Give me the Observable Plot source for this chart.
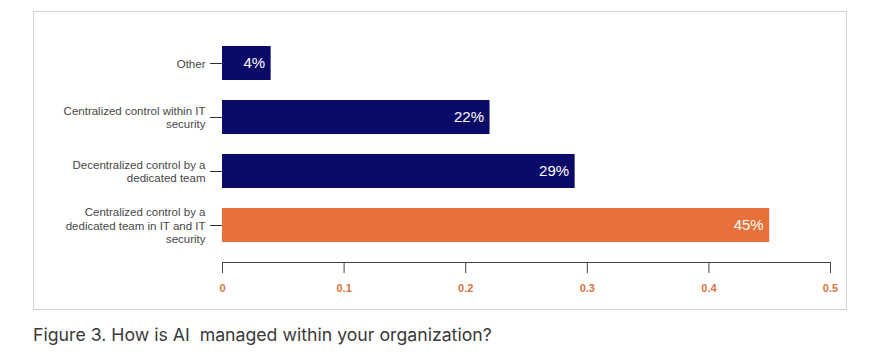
<!DOCTYPE html>
<html>
<head>
<meta charset="utf-8">
<script src="https://cdn.jsdelivr.net/npm/d3@7"></script>
<script src="https://cdn.jsdelivr.net/npm/@observablehq/plot@0.6"></script>
<style>
  html, body { margin: 0; padding: 0; background: #fff; }
  #wrap { position: relative; width: 895px; height: 359px; }
  #box { position: absolute; left: 33px; top: 11px; width: 812px; height: 297px; border: 1px solid #d3d3d3; }
  #chart { position: absolute; left: 0; top: 0; }
  #caption { position: absolute; left: 33px; top: 324px; font-family: Inter, "Noto Sans", sans-serif; font-size: 17.7px; color: #3a3a3a; white-space: pre; }
</style>
</head>
<body>
<div id="wrap">
  <div id="box"></div>
  <div id="chart"></div>
  <div id="caption">Figure 3. How is AI  managed within your organization?</div>
</div>
<script>
const categories = [
  "Other",
  "Centralized control within IT security",
  "Decentralized control by a dedicated team",
  "Centralized control by a dedicated team in IT and IT security"
];
const categoryLabels = [
  "Other",
  "Centralized control within IT\nsecurity",
  "Decentralized control by a\ndedicated team",
  "Centralized control by a\ndedicated team in IT and IT\nsecurity"
];
const values = [0.04, 0.22, 0.29, 0.45];
const valueLabels = ["4%", "22%", "29%", "45%"];
const xTicks = [0, 0.1, 0.2, 0.3, 0.4, 0.5];
const highlighted = "Centralized control by a dedicated team in IT and IT security";

const data = categories.map((c, i) => ({category: c, value: values[i], label: valueLabels[i]}));
const labelOf = new Map(categories.map((c, i) => [c, categoryLabels[i]]));

const NAVY = "#0a0a68";
const ORANGE = "#e8703a";

const chart = Plot.plot({
  width: 895,
  height: 310,
  marginLeft: 222,
  marginRight: 65,
  marginTop: 25,
  marginBottom: 48,
  style: {fontFamily: "'Liberation Sans', Arial, sans-serif", background: "transparent"},
  x: {domain: [0, 0.5], axis: null, label: null},
  y: {domain: categories, padding: 0.375, axis: null, label: null},
  marks: [
    Plot.barX(data, {
      x: "value",
      y: "category",
      fill: d => d.category === highlighted ? ORANGE : NAVY
    }),
    Plot.text(data, {
      x: "value",
      y: "category",
      text: "label",
      textAnchor: "end",
      dx: -6,
      fill: "white",
      fontSize: 15
    }),
    Plot.axisY({
      label: null,
      tickSize: 12,
      tickPadding: 5,
      tickFormat: d => labelOf.get(d),
      fontSize: 11.5,
      lineHeight: 1.16,
      color: "#474747",
      stroke: "#333"
    }),
    Plot.frame({anchor: "bottom", stroke: "#444"}),
    Plot.axisX({
      label: null,
      ticks: xTicks,
      tickSize: 11,
      tickPadding: 11,
      tickFormat: d => d === 0 ? "0" : d3.format(".1f")(d),
      fontSize: 11,
      fontWeight: "bold",
      color: "#d9733c",
      stroke: "#444"
    })
  ]
});
document.getElementById("chart").appendChild(chart);
</script>
</body>
</html>
